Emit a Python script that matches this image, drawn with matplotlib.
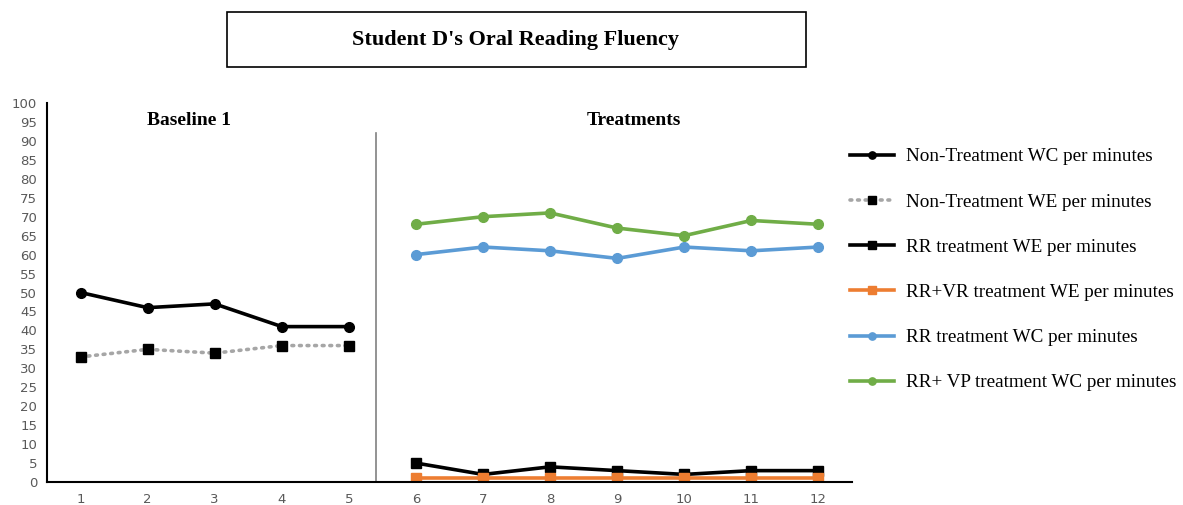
import matplotlib
matplotlib.use("Agg")
import matplotlib.pyplot as plt
from matplotlib.patches import Rectangle

# data
baseline_sessions = [1, 2, 3, 4, 5]
treat_sessions = [6, 7, 8, 9, 10, 11, 12]
nt_wc = [50, 46, 47, 41, 41]
nt_we = [33, 35, 34, 36, 36]
rr_we = [5, 2, 4, 3, 2, 3, 3]
rrvr_we = [1, 1, 1, 1, 1, 1, 1]
rr_wc = [60, 62, 61, 59, 62, 61, 62]
rrvp_wc = [68, 70, 71, 67, 65, 69, 68]

x_ticks = list(range(1, 13))
y_ticks = list(range(0, 101, 5))

fig = plt.figure(figsize=(11.83, 5.05), dpi=100)
ax = fig.add_axes([47 / 1183, 23 / 505, 805 / 1183, 379 / 505])

lw = 2.6
ms = 7
ax.plot(baseline_sessions, nt_wc, color="black", lw=lw, marker="o", ms=ms,
        label="Non-Treatment WC per minutes")
ax.plot(baseline_sessions, nt_we, color="#A6A6A6", lw=lw, ls=(0, (0.5, 1.6)),
        marker="s", ms=ms, mfc="black", mec="black",
        label="Non-Treatment WE per minutes", dash_capstyle="round")
ax.plot(treat_sessions, rr_we, color="black", lw=lw, marker="s", ms=ms,
        label="RR treatment WE per minutes")
ax.plot(treat_sessions, rrvr_we, color="#ED7D31", lw=lw, marker="s", ms=ms,
        label="RR+VR treatment WE per minutes")
ax.plot(treat_sessions, rr_wc, color="#5B9BD5", lw=lw, marker="o", ms=ms,
        label="RR treatment WC per minutes")
ax.plot(treat_sessions, rrvp_wc, color="#70AD47", lw=lw, marker="o", ms=ms,
        label="RR+ VP treatment WC per minutes")

# phase change line
ax.plot([5.4, 5.4], [0, 92], color="#808080", lw=1.2)

ax.set_xlim(0.5, 12.5)
ax.set_ylim(0, 100)
ax.set_xticks(x_ticks)
ax.set_yticks(y_ticks)
ax.tick_params(length=0, labelcolor="#595959", labelsize=9.5, pad=8)
ax.tick_params(axis="y", pad=7)
for s in ["top", "right"]:
    ax.spines[s].set_visible(False)
for s in ["left", "bottom"]:
    ax.spines[s].set_color("black")
    ax.spines[s].set_linewidth(1.5)

ax.text(2.62, 95.5, "Baseline 1", ha="center", va="center",
        fontfamily="Liberation Serif", fontweight="bold", fontsize=14)
ax.text(9.25, 95.5, "Treatments", ha="center", va="center",
        fontfamily="Liberation Serif", fontweight="bold", fontsize=14)

# title box
fig.patches.append(Rectangle((227 / 1183, 1 - 67 / 505), 579 / 1183, 55 / 505,
                             transform=fig.transFigure, fill=False,
                             edgecolor="black", lw=1.2))
fig.text(516 / 1183, 1 - 40 / 505, "Student D's Oral Reading Fluency",
         ha="center", va="center", fontfamily="Liberation Serif",
         fontweight="bold", fontsize=16)

handles, labels = ax.get_legend_handles_labels()
fig.legend(handles, labels, loc="upper left", bbox_to_anchor=(850 / 1183, 1 - 148 / 505),
           frameon=False, prop={"family": "Liberation Serif", "size": 13.8},
           labelspacing=1.45, handlelength=2.3, handletextpad=0.6, markerscale=0.75,
           borderpad=0, borderaxespad=0)

fig.savefig("out.png", dpi=100)
